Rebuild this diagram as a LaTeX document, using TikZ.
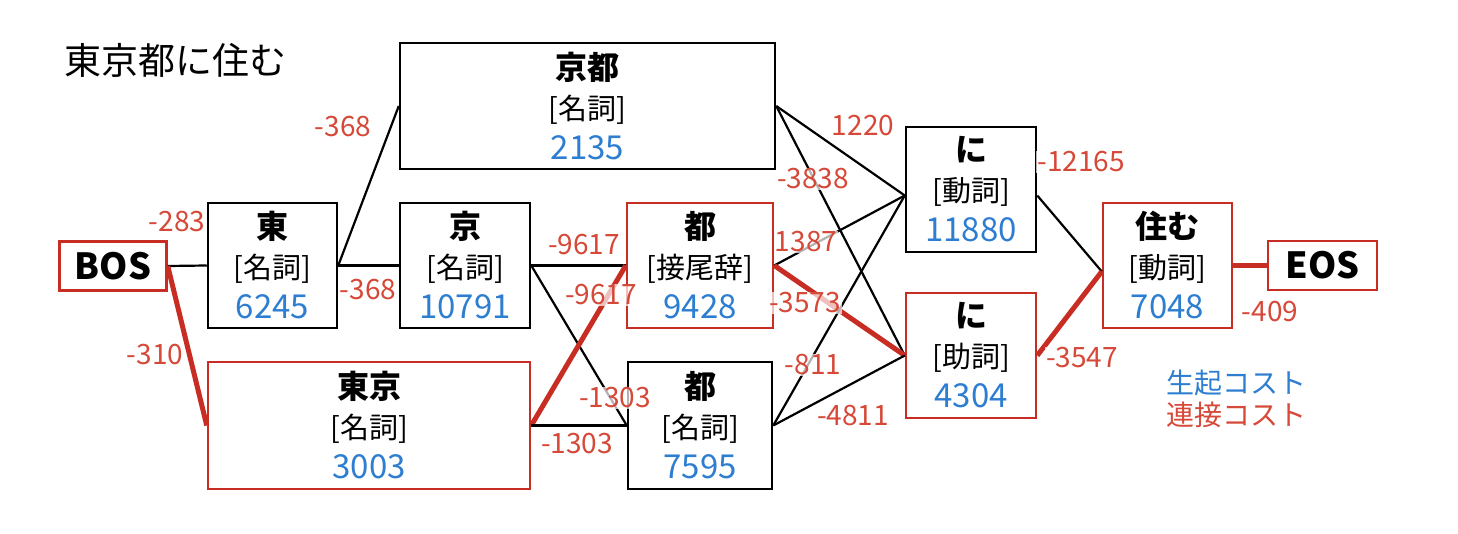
\documentclass[tikz,border=0pt]{standalone}
\usepackage{fontspec}
\setmainfont{Noto Sans CJK JP}
\definecolor{costred}{RGB}{214,72,56}
\definecolor{pathred}{RGB}{200,45,35}
\definecolor{costblue}{RGB}{45,125,208}
\newcommand{\surf}[1]{{\fontsize{32}{40}\selectfont\bfseries #1}}
\newcommand{\gen}[1]{{\fontsize{33}{40}\selectfont\color{costblue}#1}}
\begin{document}
\begin{tikzpicture}[x=1pt, y=-1pt,
  main/.style = {draw, line width=2.5pt, align=center, inner sep=0pt, font=\fontsize{29}{40}\selectfont},
  best/.style = {main, draw=pathred},
  term/.style = {draw=pathred, line width=2.5pt, inner sep=0pt, font=\fontsize{36}{40}\selectfont\bfseries},
  edge/.style = {line width=2.2pt},
  path/.style = {line width=5pt, pathred},
  cost/.style = {text=costred, font=\fontsize{28}{30}\selectfont, fill=white, fill opacity=0.7, text opacity=1, inner sep=1pt}]
  \useasboundingbox (0,0) rectangle (1458,534);

  \node[font=\fontsize{37}{40}\selectfont] (title) at (175,60) {東京都に住む};

  \node[term, minimum width=107pt, minimum height=49pt] (bos) at (113,266) {BOS};
  \node[main, minimum width=129pt, minimum height=125pt] (higashi) at (272.5,265.5) {\surf{東}\\{}[名詞]\\\gen{6245}};
  \node[main, minimum width=375pt, minimum height=126pt] (kyoto) at (587.5,106) {\surf{京都}\\{}[名詞]\\\gen{2135}};
  \node[main, minimum width=130pt, minimum height=125pt] (kyo) at (465,265.5) {\surf{京}\\{}[名詞]\\\gen{10791}};
  \node[best, minimum width=146pt, minimum height=125pt] (to1) at (700,265.5) {\surf{都}\\{}[接尾辞]\\\gen{9428}};
  \node[best, minimum width=322pt, minimum height=127pt] (tokyo) at (369,425.5) {\surf{東京}\\{}[名詞]\\\gen{3003}};
  \node[main, minimum width=144pt, minimum height=127pt] (to2) at (700,425.5) {\surf{都}\\{}[名詞]\\\gen{7595}};
  \node[main, minimum width=130pt, minimum height=125pt] (ni1) at (971,189.5) {\surf{に}\\{}[動詞]\\\gen{11880}};
  \node[best, minimum width=130pt, minimum height=125pt] (ni2) at (971,355.5) {\surf{に}\\{}[助詞]\\\gen{4304}};
  \node[best, minimum width=129pt, minimum height=125pt] (sumu) at (1167.5,265.5) {\surf{住む}\\{}[動詞]\\\gen{7048}};
  \node[term, minimum width=109pt, minimum height=49pt] (eos) at (1322.5,265.5) {EOS};

  \draw[edge] (bos.east) to (higashi.west);
  \draw[path] (bos.east) to (tokyo.west);
  \draw[edge] (higashi.east) to (kyoto.west);
  \draw[edge] (higashi.east) to (kyo.west);
  \draw[edge] (kyo.east) to (to1.west);
  \draw[edge] (kyo.east) to (to2.west);
  \draw[path] (tokyo.east) to (to1.west);
  \draw[edge] (tokyo.east) to (to2.west);
  \draw[edge] (kyoto.east) to ([yshift=-6pt]ni1.west);
  \draw[edge] (kyoto.east) to (ni2.west);
  \draw[edge] (to1.east) to ([yshift=-6pt]ni1.west);
  \draw[path] (to1.east) to (ni2.west);
  \draw[edge] (to2.east) to ([yshift=-6pt]ni1.west);
  \draw[edge] (to2.east) to (ni2.west);
  \draw[edge] ([yshift=-6pt]ni1.east) to ([yshift=-6pt]sumu.west);
  \draw[path] (ni2.east) to ([yshift=-6pt]sumu.west);
  \draw[path] (sumu.east) to (eos.west);

  \node[cost] (c1) at (177,222) {-283};
  \node[cost] (c2) at (155,355) {-310};
  \node[cost] (c3) at (343,127) {-368};
  \node[cost] (c4) at (368,290) {-368};
  \node[cost] (c5) at (584,245) {-9617};
  \node[cost] (c6) at (601,295) {-9617};
  \node[cost] (c7) at (615,398) {-1303};
  \node[cost] (c8) at (577,444) {-1303};
  \node[cost] (c9) at (863,126) {1220};
  \node[cost] (c10) at (813,179) {-3838};
  \node[cost] (c11) at (806,242) {1387};
  \node[cost] (c12) at (805,303) {-3573};
  \node[cost] (c13) at (813,365) {-811};
  \node[cost] (c14) at (853,416) {-4811};
  \node[cost] (c15) at (1081,162) {-12165};
  \node[cost] (c16) at (1082,358) {-3547};
  \node[cost] (c17) at (1270,312) {-409};

  \node[text=costblue, font=\fontsize{28}{30}\selectfont] (occ) at (1236,383) {生起コスト};
  \node[text=costred, font=\fontsize{28}{30}\selectfont] (con) at (1236,415) {連接コスト};
\end{tikzpicture}
\end{document}
